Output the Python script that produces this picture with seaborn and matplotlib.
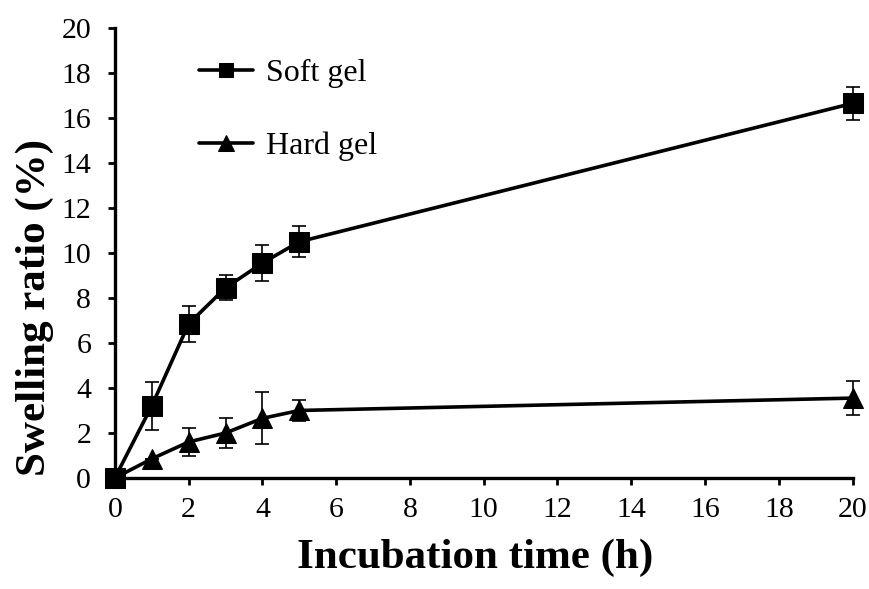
import numpy as np
import pandas as pd
import matplotlib
matplotlib.use("Agg")
import matplotlib.pyplot as plt
import seaborn as sns

# --- Data ---
hours = [0, 1, 2, 3, 4, 5, 20]
soft_gel = [0, 3.2, 6.85, 8.45, 9.55, 10.5, 16.65]
soft_err = [0, 1.05, 0.8, 0.55, 0.8, 0.7, 0.72]
hard_gel = [0, 0.85, 1.6, 2.0, 2.65, 3.0, 3.55]
hard_err = [0, 0.0, 0.63, 0.68, 1.15, 0.45, 0.75]
x_ticks = list(range(0, 21, 2))
y_ticks = list(range(0, 21, 2))

df = pd.DataFrame({
    "hours": hours * 2,
    "ratio": soft_gel + hard_gel,
    "err": soft_err + hard_err,
    "gel": ["Soft gel"] * len(hours) + ["Hard gel"] * len(hours),
})

sns.set_theme(style="ticks", rc={"text.color": "black", "axes.labelcolor": "black",
                                 "xtick.color": "black", "ytick.color": "black"})
plt.rcParams["font.family"] = ["Liberation Serif", "DejaVu Serif"]

fig = plt.figure(figsize=(8.7, 5.89), dpi=100)
ax = fig.add_axes([0.132, 0.1885, 0.848, 0.764])

markers = {"Soft gel": "s", "Hard gel": "^"}
msizes = {"Soft gel": 14, "Hard gel": 15}

for name in ["Soft gel", "Hard gel"]:
    sub = df[df["gel"] == name]
    ax.errorbar(sub["hours"], sub["ratio"], yerr=sub["err"], fmt="none",
                ecolor="black", elinewidth=1.2, capsize=5, capthick=1.2,
                clip_on=False, zorder=2)
    sns.lineplot(data=sub, x="hours", y="ratio", ax=ax, color="black",
                 linewidth=2.6, marker=markers[name], markersize=msizes[name],
                 markeredgecolor="black", markerfacecolor="black",
                 label=name, clip_on=False, zorder=3)

ax.set_xlim(0, 20)
ax.set_ylim(0, 20)
ax.set_xticks(x_ticks)
ax.set_yticks(y_ticks)
ax.tick_params(axis="both", labelsize=21.5, width=2, length=5, direction="out",
               color="black", labelcolor="black")
ax.tick_params(axis="x", pad=9)
ax.tick_params(axis="y", pad=12)
for side in ["top", "right"]:
    ax.spines[side].set_visible(False)
for side in ["left", "bottom"]:
    ax.spines[side].set_linewidth(2.4)
    ax.spines[side].set_color("black")

ax.set_xlabel("Incubation time (h)", fontsize=31, fontweight="bold")
ax.set_ylabel("Swelling ratio (%)", fontsize=31, fontweight="bold")
ax.xaxis.set_label_coords(0.488, -0.135)
ax.yaxis.set_label_coords(-0.082, 0.378)

leg = ax.legend(loc="upper left", bbox_to_anchor=(0.075, 0.995), frameon=False,
                fontsize=23, handlelength=1.7, handletextpad=0.4,
                labelspacing=1.35, markerscale=0.75)

fig.savefig("out.png", dpi=100)
